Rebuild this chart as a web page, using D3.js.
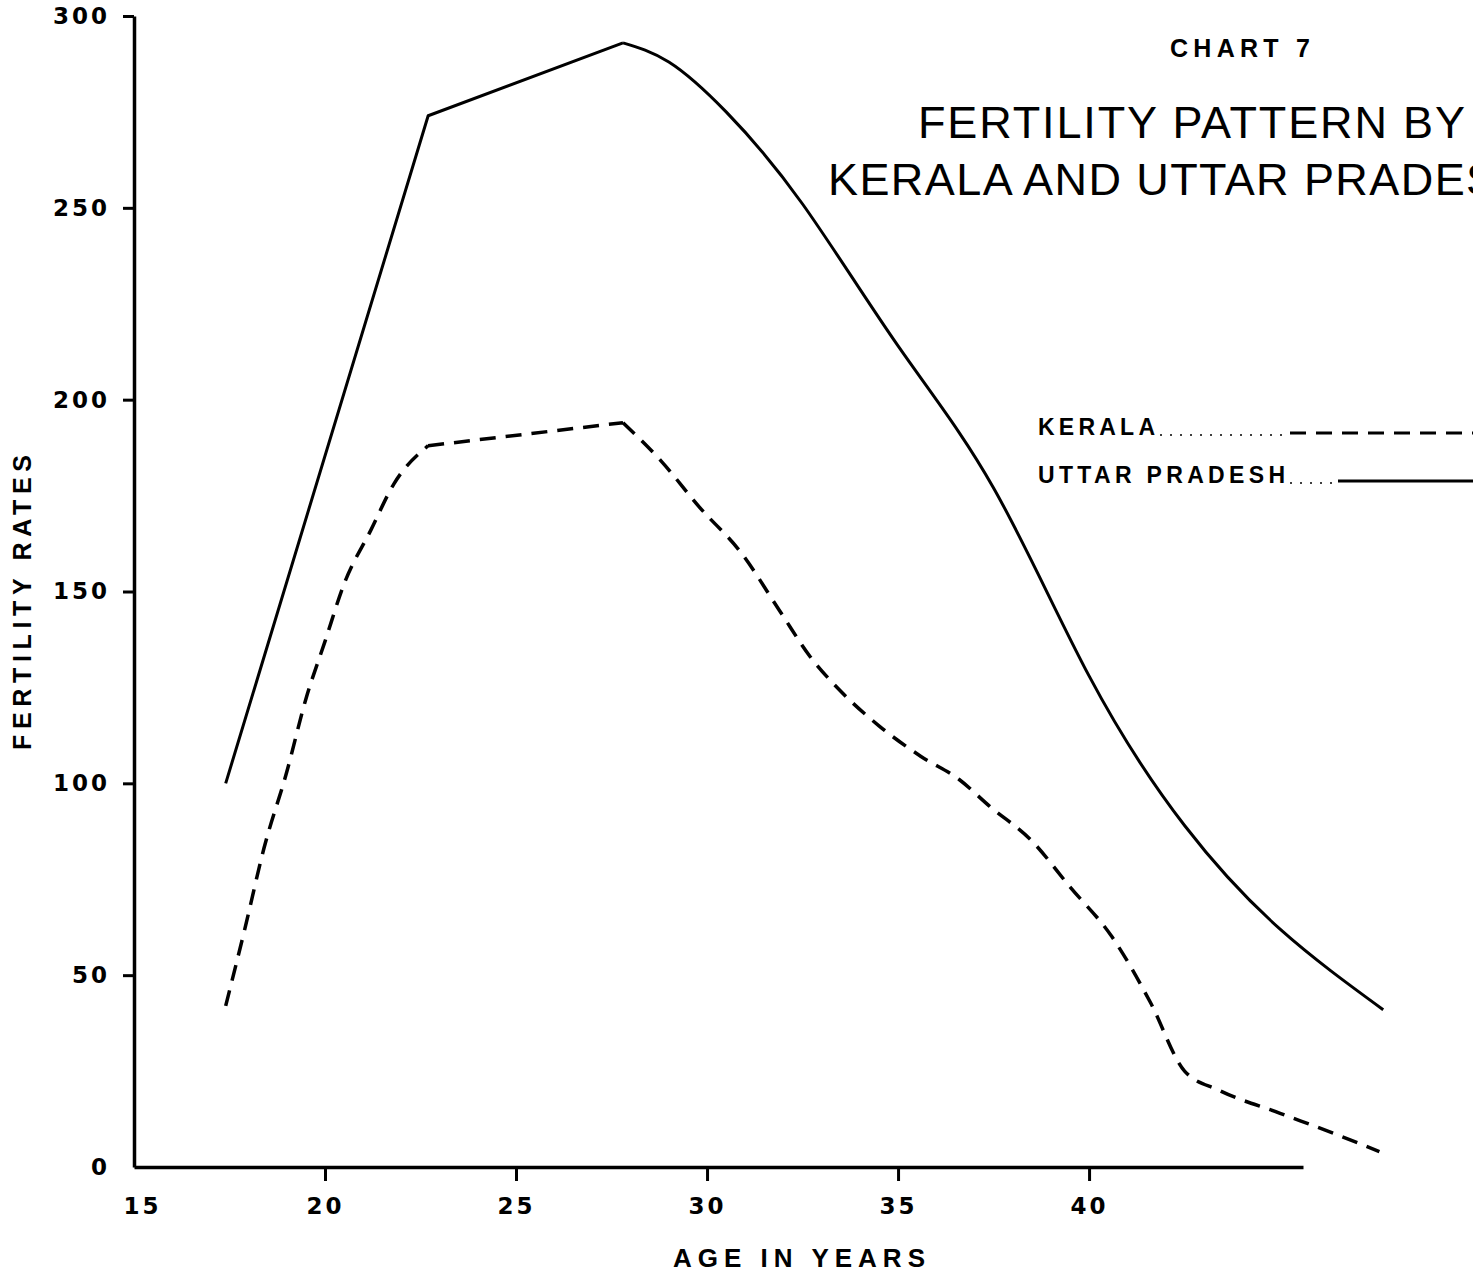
<!DOCTYPE html>
<html>
<head>
<meta charset="utf-8">
<script src="https://cdn.jsdelivr.net/npm/d3@7"></script>
<style>
  body { margin: 0; background: #fff; }
  svg { display: block; }
  .tick text { font-family: "DejaVu Sans", sans-serif; font-weight: bold; font-size: 23px; letter-spacing: 3px; fill: #000; }
  .lbl { font-family: "Liberation Sans", Arial, sans-serif; fill: #000; }
</style>
</head>
<body>
<div id="chart"></div>
<script>
"use strict";

// age (years) and fertility rate
var ageKerala = [17.4, 17.9, 18.4, 19.0, 19.5, 20.0, 20.5, 21.2, 21.8, 22.7, 27.8, 28.8, 29.8, 30.9, 31.9, 32.7, 33.5, 34.5, 35.6, 36.6, 37.4, 38.5, 39.5, 40.6, 41.6, 42.5, 43.4, 45.0, 46.6, 47.6];
var rateKerala = [42, 62, 83, 103, 122, 137, 152, 166, 178, 188, 194, 184, 172, 160, 145, 133, 124, 115, 107, 101, 94, 85, 73, 60, 43, 25, 20, 14, 8, 4];

var ageUP = [17.4, 22.7, 27.8, 29.0, 30.5, 32.5, 35.0, 37.5, 40.0, 42.5, 45.0, 47.7];
var rateUP = [100, 274, 293, 288, 275, 251, 214, 177, 128, 89, 62, 41];

var xTicks = [15, 20, 25, 30, 35, 40];
var yTicks = [0, 50, 100, 150, 200, 250, 300];

var legendNames = ["KERALA", "UTTAR PRADESH"];

var w = 1473,
  h = 1273;

var svg = d3
  .select("#chart")
  .append("svg")
  .attr("width", w)
  .attr("height", h);

var x = d3.scaleLinear().domain([15, 45.6]).range([134, 1303]);
var y = d3.scaleLinear().domain([0, 300]).range([1167, 16]);

//axes
var xAxis = svg
  .append("g")
  .attr("transform", "translate(0," + y(0) + ")")
  .call(
    d3
      .axisBottom(x)
      .tickValues(xTicks)
      .tickSizeInner(14)
      .tickSizeOuter(0)
      .tickPadding(17)
      .tickFormat(d3.format("d"))
  );

var yAxis = svg
  .append("g")
  .attr("transform", "translate(" + x(15) + ",0)")
  .call(
    d3
      .axisLeft(y)
      .tickValues(yTicks)
      .tickSizeInner(11)
      .tickSizeOuter(0)
      .tickPadding(13)
      .tickFormat(d3.format("d"))
  );

[xAxis, yAxis].forEach(function(a) {
  a.select(".domain").attr("stroke", "#000").attr("stroke-width", 3.5);
  a.selectAll(".tick line").attr("stroke", "#000").attr("stroke-width", 3);
});

//no tick mark at the origin
xAxis.selectAll(".tick").filter(function(d) { return d === 15; }).select("line").remove();
yAxis.selectAll(".tick").filter(function(d) { return d === 0; }).select("line").remove();
xAxis.selectAll(".tick").filter(function(d) { return d === 15; }).select("text").attr("x", 8);

//curves: straight pieces where the drawing is ruled, smooth elsewhere
function pathFor(pts, pieces) {
  return pieces
    .map(function(p) {
      return d3
        .line()
        .x(function(d) { return x(d[0]); })
        .y(function(d) { return y(d[1]); })
        .curve(p[2] || d3.curveLinear)(pts.slice(p[0], p[1] + 1));
    })
    .join("");
}

var kerala = ageKerala.map(function(a, i) { return [a, rateKerala[i]]; });
var up = ageUP.map(function(a, i) { return [a, rateUP[i]]; });

svg
  .append("path")
  .attr("d", pathFor(up, [[0, 2], [2, up.length - 1, d3.curveNatural]]))
  .attr("fill", "none")
  .attr("stroke", "#000")
  .attr("stroke-width", 3)
  .attr("stroke-linejoin", "round");

svg
  .append("path")
  .attr("d", pathFor(kerala, [[0, 9, d3.curveMonotoneX], [9, 10], [10, kerala.length - 1, d3.curveMonotoneX]]))
  .attr("fill", "none")
  .attr("stroke", "#000")
  .attr("stroke-width", 3.5)
  .attr("stroke-dasharray", "16,10")
  .attr("stroke-linejoin", "round");

//titles
svg.append("text").attr("class", "lbl")
  .attr("x", 1170).attr("y", 57)
  .attr("font-size", 25).attr("font-weight", "bold")
  .attr("textLength", 140).attr("lengthAdjust", "spacing")
  .text("CHART 7");

svg.append("text").attr("class", "lbl")
  .attr("x", 918).attr("y", 138)
  .attr("font-size", 45)
  .attr("textLength", 547).attr("lengthAdjust", "spacing")
  .text("FERTILITY PATTERN BY");

svg.append("text").attr("class", "lbl")
  .attr("x", 828).attr("y", 195)
  .attr("font-size", 45)
  .attr("textLength", 702).attr("lengthAdjust", "spacing")
  .text("KERALA AND UTTAR PRADESH");

//legend
var legY = [435, 483];
var legW = [117, 247];
var legDash = ["16,10", null];
var legStart = [1290, 1338];

legendNames.forEach(function(name, i) {
  svg.append("text").attr("class", "lbl")
    .attr("x", 1038).attr("y", legY[i])
    .attr("font-size", 23).attr("font-weight", "bold")
    .attr("textLength", legW[i]).attr("lengthAdjust", "spacing")
    .text(name);
  //dotted leader
  svg.append("line")
    .attr("x1", 1038 + legW[i] + 5).attr("x2", legStart[i] - 4)
    .attr("y1", legY[i]).attr("y2", legY[i])
    .attr("stroke", "#000").attr("stroke-width", 1.5)
    .attr("stroke-dasharray", "2,8");
  svg.append("line")
    .attr("x1", legStart[i]).attr("x2", w)
    .attr("y1", legY[i] - 2).attr("y2", legY[i] - 2)
    .attr("stroke", "#000").attr("stroke-width", 3)
    .attr("stroke-dasharray", legDash[i]);
});

//axis titles
svg.append("text").attr("class", "lbl")
  .attr("x", 673).attr("y", 1267)
  .attr("font-size", 26).attr("font-weight", "bold")
  .attr("textLength", 252).attr("lengthAdjust", "spacing")
  .text("AGE IN YEARS");

svg.append("text").attr("class", "lbl")
  .attr("transform", "translate(31,750) rotate(-90)")
  .attr("font-size", 25).attr("font-weight", "bold")
  .attr("textLength", 295).attr("lengthAdjust", "spacing")
  .text("FERTILITY RATES");
</script>
</body>
</html>
